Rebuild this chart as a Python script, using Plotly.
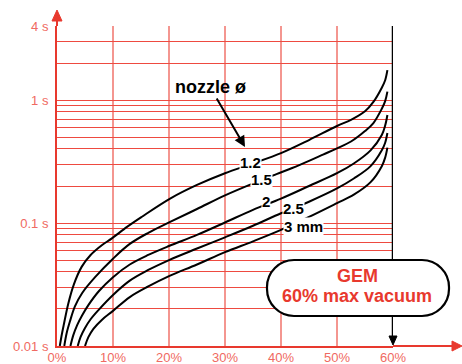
import math
import plotly.graph_objects as go

# ---------------- data ----------------
vacuum_ticks = [0, 10, 20, 30, 40, 50, 60]
vacuum_ticktext = ["0%", "10%", "20%", "30%", "40%", "50%", "60%"]
time_ticks = [0.01, 0.1, 1, 4]
time_ticktext = ["0.01 s", "0.1 s", "1 s", "4 s"]
time_minor = [m * d for d in (0.01, 0.1, 1) for m in range(2, 10) if m * d < 4]

nozzles = ["1.2", "1.5", "2", "2.5", "3 mm"]

x_12 = [0.5, 0.8, 1.2, 2.0, 3.0, 4.4, 6.0, 8.0, 9.8, 12.5, 15.1, 20.2, 25, 30, 35, 40, 45, 50, 52.5, 55, 56.5, 58, 58.6, 59]
t_12 = [0.01, 0.012, 0.0148, 0.022, 0.0316, 0.044, 0.055, 0.066, 0.075, 0.093, 0.112, 0.158, 0.204, 0.254, 0.305, 0.37, 0.473, 0.615, 0.69, 0.81, 0.965, 1.26, 1.45, 1.75]

x_15 = [1.3, 1.7, 2.3, 3.2, 4.5, 6.8, 10, 13, 16.3, 20.2, 25, 30, 35, 39.2, 42, 45, 47.5, 50, 52.5, 55, 56.5, 58, 58.6, 59]
t_15 = [0.01, 0.0126, 0.0158, 0.021, 0.027, 0.0363, 0.0513, 0.0676, 0.0832, 0.102, 0.13, 0.168, 0.21, 0.25, 0.28, 0.32, 0.36, 0.405, 0.46, 0.56, 0.65, 0.85, 0.98, 1.17]

x_20 = [2.4, 2.9, 3.6, 4.5, 5.6, 7.5, 10, 13, 16.3, 20, 25, 30, 35, 40, 45, 50, 53, 56, 58, 58.6, 59]
t_20 = [0.01, 0.0122, 0.0148, 0.0178, 0.0215, 0.028, 0.0363, 0.046, 0.055, 0.065, 0.08, 0.101, 0.128, 0.158, 0.2, 0.254, 0.305, 0.39, 0.52, 0.62, 0.755]

x_25 = [3.7, 4.2, 5.0, 6.0, 7.4, 10, 13, 16.3, 20, 25, 30, 35, 40, 45, 50, 53, 56, 58, 58.6, 59]
t_25 = [0.01, 0.0118, 0.014, 0.0165, 0.0196, 0.026, 0.034, 0.0415, 0.05, 0.062, 0.0765, 0.095, 0.12, 0.149, 0.191, 0.23, 0.29, 0.39, 0.45, 0.54]

x_30 = [5.0, 5.6, 6.5, 8.0, 10, 13, 16.3, 20, 25, 30, 35, 40, 45, 50, 53, 56, 58, 58.6, 59]
t_30 = [0.01, 0.0118, 0.0138, 0.0163, 0.0193, 0.025, 0.0305, 0.037, 0.046, 0.058, 0.071, 0.088, 0.112, 0.145, 0.17, 0.215, 0.29, 0.34, 0.41]

label_x = [34.5, 36.5, 37.4, 42.2, 44.0]
label_t = [0.31, 0.224, 0.149, 0.132, 0.093]

max_vacuum = 60

# ---------------- styling ----------------
RED = "#e8392e"
TICK_RED = "#f06a62"
GRID_H = "#ee4a40"
GRID_V = "rgba(236,80,70,0.6)"
FONT = "Liberation Sans, Arial, Helvetica, sans-serif"

W, H = 462, 364
L, R, T, B = 57, 69, 26, 18
PW, PH = W - L - R, H - T - B


def px(xp, yp):
    """pixel position -> paper coordinates"""
    return (xp - L) / PW, (H - B - yp) / PH


fig = go.Figure()
for xs, ts in [(x_12, t_12), (x_15, t_15), (x_20, t_20), (x_25, t_25), (x_30, t_30)]:
    fig.add_trace(go.Scatter(x=xs, y=ts, mode="lines",
                             line=dict(color="black", width=2, shape="spline", smoothing=1.0),
                             hoverinfo="skip", showlegend=False))

# curve labels
for name, lx, lt in zip(nozzles, label_x, label_t):
    fig.add_annotation(x=lx, y=math.log10(lt), xref="x", yref="y", text="<b>%s</b>" % name,
                       showarrow=False, bgcolor="white", borderpad=0,
                       xanchor="center", yanchor="middle",
                       font=dict(family=FONT, size=15, color="black"))

# "nozzle ø" with arrow
tipx, tipy = px(245, 147)
fig.add_annotation(x=tipx, y=tipy, xref="paper", yref="paper", text="<b>nozzle ø</b>",
                   showarrow=True, ax=-35, ay=-60, arrowhead=2, arrowsize=1.1, arrowwidth=2,
                   arrowcolor="black", standoff=0,
                   font=dict(family=FONT, size=18, color="black"))

shapes = []
# y axis extension + arrow
_, y1 = px(57, 19)
shapes.append(dict(type="line", xref="paper", yref="paper", x0=0, x1=0, y0=1, y1=y1,
                   line=dict(color=RED, width=2)))
ax_, ay_tip = px(57, 10)
lx_, ay_base = px(52, 21)
rx_, _ = px(62, 21)
shapes.append(dict(type="path", xref="paper", yref="paper",
                   path=f"M {lx_} {ay_base} L {ax_} {ay_tip} L {rx_} {ay_base} Z",
                   fillcolor=RED, line=dict(color=RED, width=1)))
# x axis extension + arrow
xe, _ = px(454, 346)
shapes.append(dict(type="line", xref="paper", yref="paper", x0=1, x1=xe, y0=0, y1=0,
                   line=dict(color=RED, width=2)))
xt, _ = px(462, 346)
xb, yb_up = px(452, 341)
_, yb_dn = px(452, 351)
shapes.append(dict(type="path", xref="paper", yref="paper",
                   path=f"M {xb} {yb_up} L {xt} 0 L {xb} {yb_dn} Z",
                   fillcolor=RED, line=dict(color=RED, width=1)))
# black 60% line with arrow at the bottom
_, v_top = px(393, 26)
_, v_bot = px(393, 337)
shapes.append(dict(type="line", xref="x", yref="paper", x0=max_vacuum, x1=max_vacuum,
                   y0=v_bot, y1=v_top, line=dict(color="black", width=2.5)))
hx_l, h_base = px(389, 336)
hx_r, _ = px(397, 336)
hx_c, h_tip = px(393, 345)
shapes.append(dict(type="path", xref="paper", yref="paper",
                   path=f"M {hx_l} {h_base} L {hx_c} {h_tip} L {hx_r} {h_base} Z",
                   fillcolor="black", line=dict(color="black", width=1)))
# pill box
bx0, bx1, by0, by1, r = 267, 449, 260, 316, 27
k = 0.5523 * r
pts = [
    ("M", [(bx0 + r, by0)]),
    ("L", [(bx1 - r, by0)]),
    ("C", [(bx1 - r + k, by0), (bx1, by0 + r - k), (bx1, by0 + r)]),
    ("L", [(bx1, by1 - r)]),
    ("C", [(bx1, by1 - r + k), (bx1 - r + k, by1), (bx1 - r, by1)]),
    ("L", [(bx0 + r, by1)]),
    ("C", [(bx0 + r - k, by1), (bx0, by1 - r + k), (bx0, by1 - r)]),
    ("L", [(bx0, by0 + r)]),
    ("C", [(bx0, by0 + r - k), (bx0 + r - k, by0), (bx0 + r, by0)]),
]
path = ""
for cmd, plist in pts:
    path += cmd + " " + " ".join("%.5f,%.5f" % px(a, b) for a, b in plist) + " "
path += "Z"
shapes.append(dict(type="path", xref="paper", yref="paper", path=path,
                   fillcolor="white", line=dict(color="black", width=2.2), layer="above"))

fig.update_layout(shapes=shapes)
for txt, cy in [("GEM", 276), ("60% max vacuum", 296)]:
    gx, gy = px(357, cy)
    fig.add_annotation(x=gx, y=gy, xref="paper", yref="paper",
                       text="<b>%s</b>" % txt, showarrow=False,
                       xanchor="center", yanchor="middle", borderpad=0,
                       font=dict(family=FONT, size=18, color=RED))

fig.update_layout(
    width=W, height=H,
    margin=dict(l=L, r=R, t=T, b=B, pad=0),
    paper_bgcolor="white", plot_bgcolor="white",
    showlegend=False,
    xaxis=dict(range=[0, max_vacuum], tickmode="array", tickvals=vacuum_ticks,
               ticktext=vacuum_ticktext, showgrid=True, gridcolor=GRID_V, gridwidth=1.5,
               zeroline=False, showline=True, linecolor=RED, linewidth=2,
               ticks="", tickfont=dict(family=FONT, size=13, color=TICK_RED),
               ticklabelstandoff=-2, automargin=False, fixedrange=True),
    yaxis=dict(type="log", range=[-2, math.log10(4)], tickmode="array",
               tickvals=time_ticks, ticktext=time_ticktext,
               showgrid=True, gridcolor=GRID_H, gridwidth=1,
               minor=dict(tickmode="array", tickvals=time_minor, showgrid=True,
                          gridcolor=GRID_H, gridwidth=1, ticks=""),
               zeroline=False, showline=True, linecolor=RED, linewidth=2,
               ticks="", tickfont=dict(family=FONT, size=13, color=TICK_RED),
               ticklabelstandoff=4, automargin=False, fixedrange=True),
)

fig.write_html("out.html", config={"displayModeBar": False},
               post_script="document.body.style.margin='0';document.body.style.overflow='hidden';")
